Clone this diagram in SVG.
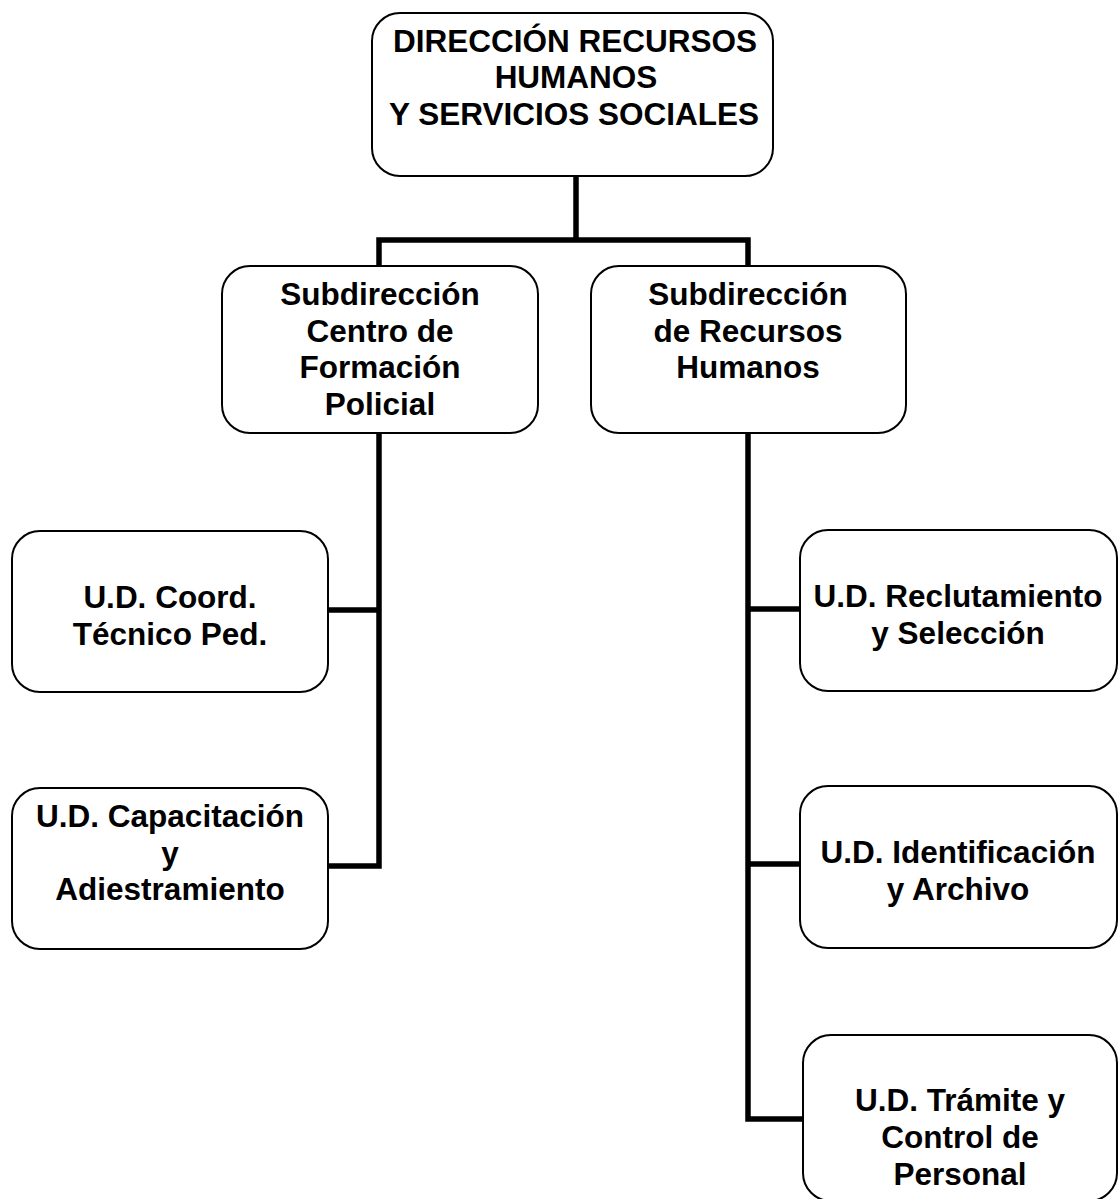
<svg xmlns="http://www.w3.org/2000/svg" width="1118" height="1199" viewBox="0 0 1118 1199">
<style>
.box{fill:#fff;stroke:#000;stroke-width:2}
.t{font-family:"Liberation Sans",Arial,sans-serif;font-weight:bold;font-size:31.5px;fill:#000;text-anchor:middle}
.c{fill:none;stroke:#000;stroke-width:5.5;stroke-linecap:square;stroke-linejoin:miter}
</style>
<rect width="1118" height="1199" fill="#fff"/>
<g id="connectors">
<path class="c" d="M576,177 V240 M379,264 V240 H748 V264"/>
<path class="c" d="M379,435 V866 H329 M379,610 H329"/>
<path class="c" d="M748,435 V1119 H802 M748,609 H799 M748,864 H799"/>
</g>
<g id="n-direccion">
<rect class="box" x="372" y="13" width="401" height="163" rx="28"/>
<text class="t" x="575" y="52">DIRECCIÓN RECURSOS</text>
<text class="t" x="576" y="88">HUMANOS</text>
<text class="t" x="574" y="125">Y SERVICIOS SOCIALES</text>
</g>
<g id="n-sub-formacion">
<rect class="box" x="222" y="266" width="316" height="167" rx="28"/>
<text class="t" x="380" y="305">Subdirección</text>
<text class="t" x="380" y="342">Centro de</text>
<text class="t" x="380" y="378">Formación</text>
<text class="t" x="380" y="415">Policial</text>
</g>
<g id="n-sub-rh">
<rect class="box" x="591" y="266" width="315" height="167" rx="28"/>
<text class="t" x="748" y="305">Subdirección</text>
<text class="t" x="748" y="342">de Recursos</text>
<text class="t" x="748" y="378">Humanos</text>
</g>
<g id="n-coord">
<rect class="box" x="12" y="531" width="316" height="161" rx="28"/>
<text class="t" x="170" y="608">U.D. Coord.</text>
<text class="t" x="170" y="645">Técnico Ped.</text>
</g>
<g id="n-capacitacion">
<rect class="box" x="12" y="788" width="316" height="161" rx="28"/>
<text class="t" x="170" y="827">U.D. Capacitación</text>
<text class="t" x="170" y="864">y</text>
<text class="t" x="170" y="900">Adiestramiento</text>
</g>
<g id="n-reclutamiento">
<rect class="box" x="800" y="530" width="317" height="161" rx="28"/>
<text class="t" x="958" y="607">U.D. Reclutamiento</text>
<text class="t" x="958" y="644">y Selección</text>
</g>
<g id="n-identificacion">
<rect class="box" x="800" y="786" width="317" height="162" rx="28"/>
<text class="t" x="958" y="863">U.D. Identificación</text>
<text class="t" x="958" y="900">y Archivo</text>
</g>
<g id="n-tramite">
<rect class="box" x="803" y="1035" width="314" height="166" rx="28"/>
<text class="t" x="960" y="1111">U.D. Trámite y</text>
<text class="t" x="960" y="1148">Control de</text>
<text class="t" x="960" y="1185">Personal</text>
</g>
</svg>
